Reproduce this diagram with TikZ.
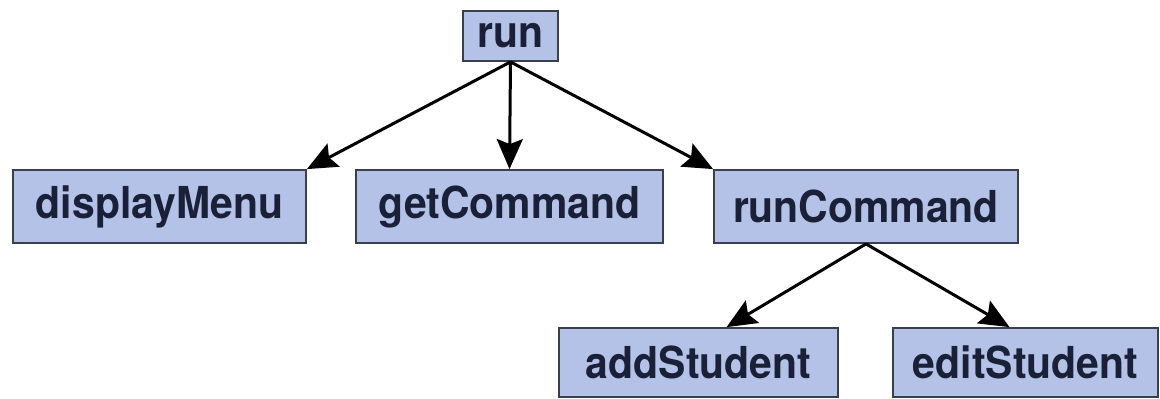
\documentclass[tikz,border=0pt]{standalone}
\usepackage{fontspec}
\setmainfont{TeX Gyre Heros}[FakeStretch=0.93]
\usetikzlibrary{positioning, arrows.meta, calc}
\definecolor{boxfill}{HTML}{B3C2E6}
\definecolor{boxedge}{HTML}{3A3F4A}
\definecolor{ink}{HTML}{1A2038}

\begin{document}
\begin{tikzpicture}[
  x=1pt, y=-1pt,
  font=\fontsize{44}{48}\selectfont\bfseries,
  func/.style={rectangle, draw=boxedge, line width=1.8pt, fill=boxfill,
               text=ink, minimum height=73pt, inner sep=0pt},
  call/.style={-{Stealth[length=30pt, width=26pt, inset=5pt]},
               line width=3pt, color=black}
]
\useasboundingbox (0,0) rectangle (1160,399);
% Top level
\node[func, minimum width=95pt, minimum height=50pt] (run) at (510.5,36) {run};
% Second level
\node[func, minimum width=293pt] (displayMenu) at (159.5,206.5) {displayMenu};
\node[func, minimum width=307pt] (getCommand)  at (509.5,206.5) {getCommand};
\node[func, minimum width=304pt] (runCommand)  at (866,206.5)   {runCommand};
% Third level
\node[func, minimum width=279pt, minimum height=69pt] (addStudent)  at (698.5,362.5)  {addStudent};
\node[func, minimum width=265pt, minimum height=69pt] (editStudent) at (1025.5,362.5) {editStudent};
% Calls from run
\draw[call] (run.south) -- (displayMenu.north east);
\draw[call] (run.south) -- (getCommand.north);
\draw[call] (run.south) -- (runCommand.north west);
% Calls from runCommand
\draw[call] (runCommand.south) -- ($(addStudent.north west)!0.6!(addStudent.north east)$);
\draw[call] (runCommand.south) -- ($(editStudent.north west)!0.44!(editStudent.north east)$);
\end{tikzpicture}
\end{document}
